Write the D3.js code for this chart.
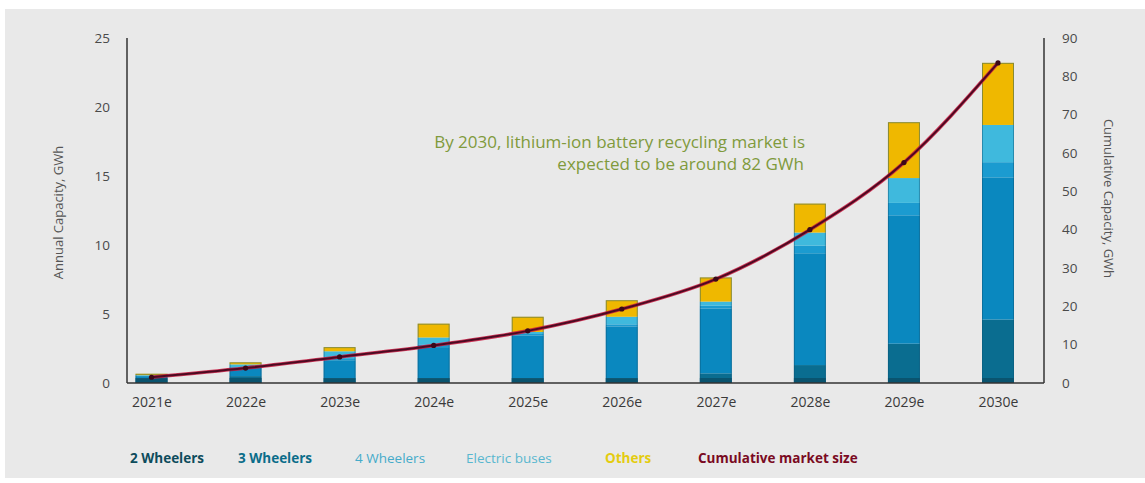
<!DOCTYPE html>
<html>
<head>
<meta charset="utf-8">
<script src="https://cdn.jsdelivr.net/npm/d3@7"></script>
<style>
  html, body { margin: 0; padding: 0; background: #ffffff; }
  svg { display: block; }
</style>
</head>
<body>
<svg id="chart" width="1145" height="483"></svg>
<script>
// Lithium-ion battery recycling market: annual capacity by segment (GWh, stacked bars)
// and cumulative market size (GWh, line on the right axis).
const years = ["2021e", "2022e", "2023e", "2024e", "2025e", "2026e", "2027e", "2028e", "2029e", "2030e"];

const twoWheelers   = [0.35, 0.50, 0.35, 0.35, 0.35, 0.35, 0.70, 1.30, 2.85, 4.60];
const threeWheelers = [0.15, 0.60, 1.30, 2.25, 3.10, 3.75, 4.70, 8.10, 9.30, 10.30];
const fourWheelers  = [0.02, 0.05, 0.15, 0.20, 0.10, 0.15, 0.20, 0.55, 0.90, 1.10];
const electricBuses = [0.05, 0.20, 0.50, 0.50, 0.15, 0.55, 0.30, 0.95, 1.80, 2.70];
const others        = [0.10, 0.15, 0.30, 1.00, 1.10, 1.20, 1.75, 2.10, 4.05, 4.50];

const cumulative    = [1.5, 3.9, 6.8, 9.8, 13.6, 19.3, 27.1, 40.0, 57.5, 83.5];

const leftTicks  = [0, 5, 10, 15, 20, 25];
const rightTicks = [0, 10, 20, 30, 40, 50, 60, 70, 80, 90];

const seriesNames = ["2 Wheelers", "3 Wheelers", "4 Wheelers", "Electric buses", "Others"];
const seriesValues = [twoWheelers, threeWheelers, fourWheelers, electricBuses, others];
const seriesFill = ["#0a6d90", "#0a88bf", "#1b9bd0", "#3fb9dd", "#efb800"];
const legendText = ["#0e4c5c", "#0b6d8a", "#45abc9", "#58b7cf", "#e4cc10", "#7a0a22"];

const svg = d3.select("#chart");
const W = 1145, H = 483;

// panel background
svg.append("rect").attr("x", 5).attr("y", 9).attr("width", W - 5).attr("height", 469)
  .attr("fill", "#e9e9e9");

const plot = { left: 127, right: 1044, top: 38, bottom: 383 };

const x = d3.scalePoint().domain(years).range([151.5, 998]);
const barW = 32;
const yL = d3.scaleLinear().domain([0, 25]).range([plot.bottom, plot.top]);
const yR = d3.scaleLinear().domain([0, 90]).range([plot.bottom, plot.top]);

// stacked rows
const rows = years.map((yr, i) => {
  const r = { year: yr };
  seriesNames.forEach((n, k) => r[n] = seriesValues[k][i]);
  return r;
});
const stacked = d3.stack().keys(seriesNames)(rows);

const bars = svg.append("g");
stacked.forEach((layer, k) => {
  bars.selectAll(null).data(layer).join("rect")
    .attr("x", d => x(d.data.year) - barW / 2)
    .attr("width", barW)
    .attr("y", d => yL(d[1]))
    .attr("height", d => Math.max(0, yL(d[0]) - yL(d[1])))
    .attr("fill", seriesFill[k]);
});
// darker base and thin edges on each bar
bars.selectAll(null).data(rows).join("rect")
  .attr("x", d => x(d.year) - barW / 2)
  .attr("width", barW)
  .attr("y", yL(0) - 5)
  .attr("height", 5)
  .attr("fill", "#0a4d66").attr("opacity", 0.8);
bars.selectAll(null).data(stacked[stacked.length - 1]).join("rect")
  .attr("x", d => x(d.data.year) - barW / 2 + 0.5)
  .attr("width", barW - 1)
  .attr("y", d => yL(d[1]) + 0.5)
  .attr("height", d => yL(0) - yL(d[1]) - 1)
  .attr("fill", "none")
  .attr("stroke", "#0b5575").attr("stroke-opacity", 0.45).attr("stroke-width", 1);

// axes lines
const axisCol = "#333";
svg.append("line").attr("x1", plot.left).attr("x2", plot.left)
  .attr("y1", plot.top).attr("y2", plot.bottom).attr("stroke", axisCol).attr("stroke-width", 1.5);
svg.append("line").attr("x1", plot.right).attr("x2", plot.right)
  .attr("y1", plot.top).attr("y2", plot.bottom).attr("stroke", axisCol).attr("stroke-width", 1.5);
svg.append("line").attr("x1", plot.left).attr("x2", plot.right)
  .attr("y1", plot.bottom).attr("y2", plot.bottom).attr("stroke", axisCol).attr("stroke-width", 1.5);

const tickFont = "'Open Sans', Lato, sans-serif";

// left axis
const gL = svg.append("g").attr("transform", `translate(${plot.left},0)`)
  .call(d3.axisLeft(yL).tickValues(leftTicks).tickSize(0).tickPadding(17));
gL.select(".domain").remove();
gL.selectAll("text").attr("font-family", tickFont).attr("font-size", 13.5).attr("fill", "#4a4a4a");

// right axis
const gR = svg.append("g").attr("transform", `translate(${plot.right},0)`)
  .call(d3.axisRight(yR).tickValues(rightTicks).tickSize(0).tickPadding(18));
gR.select(".domain").remove();
gR.selectAll("text").attr("font-family", tickFont).attr("font-size", 13.5).attr("fill", "#4a4a4a");

// bottom axis
const gB = svg.append("g").attr("transform", `translate(0,${plot.bottom})`)
  .call(d3.axisBottom(x).tickSize(0).tickPadding(14));
gB.select(".domain").remove();
gB.selectAll("text").attr("font-family", tickFont).attr("font-size", 14).attr("fill", "#3a3a3a");

// axis titles
svg.append("text")
  .attr("transform", `translate(60,${(plot.top + plot.bottom) / 2 + 2}) rotate(-90)`)
  .attr("text-anchor", "middle").attr("dominant-baseline", "middle")
  .attr("font-family", tickFont).attr("font-size", 13).attr("fill", "#555")
  .text("Annual Capacity, GWh");
svg.append("text")
  .attr("transform", `translate(1107,${(plot.top + plot.bottom) / 2 - 12}) rotate(90)`)
  .attr("text-anchor", "middle").attr("dominant-baseline", "middle")
  .attr("font-family", tickFont).attr("font-size", 13).attr("fill", "#555")
  .text("Cumulative Capacity, GWh");

// cumulative market size line
const line = d3.line()
  .x((d, i) => x(years[i]))
  .y(d => yR(d))
  .curve(d3.curveMonotoneX);
svg.append("path").datum(cumulative).attr("d", line)
  .attr("fill", "none").attr("stroke", "#c8143c").attr("stroke-width", 3.6).attr("stroke-opacity", 0.85);
svg.append("path").datum(cumulative).attr("d", line)
  .attr("fill", "none").attr("stroke", "#4c0a22").attr("stroke-width", 2);
svg.selectAll(null).data(cumulative).join("circle")
  .attr("cx", (d, i) => x(years[i])).attr("cy", d => yR(d)).attr("r", 2.6)
  .attr("fill", "#3c0818");

// annotation
const note = svg.append("text")
  .attr("text-anchor", "end")
  .attr("font-family", tickFont).attr("font-size", 17).attr("fill", "#809a3c");
note.append("tspan").attr("x", 805).attr("y", 148).text("By 2030, lithium-ion battery recycling market is");
note.append("tspan").attr("x", 804).attr("y", 170).text("expected to be around 82 GWh");

// legend
const legendItems = seriesNames.concat(["Cumulative market size"]);
const legendX = [130, 238, 355, 466, 605, 698];
const legendWeight = ["bold", "bold", "normal", "normal", "bold", "bold"];
svg.append("g").selectAll("text").data(legendItems).join("text")
  .attr("x", (d, i) => legendX[i]).attr("y", 463)
  .attr("font-family", tickFont).attr("font-size", 13.5)
  .attr("font-weight", (d, i) => legendWeight[i])
  .attr("fill", (d, i) => legendText[i])
  .text(d => d);
</script>
</body>
</html>
